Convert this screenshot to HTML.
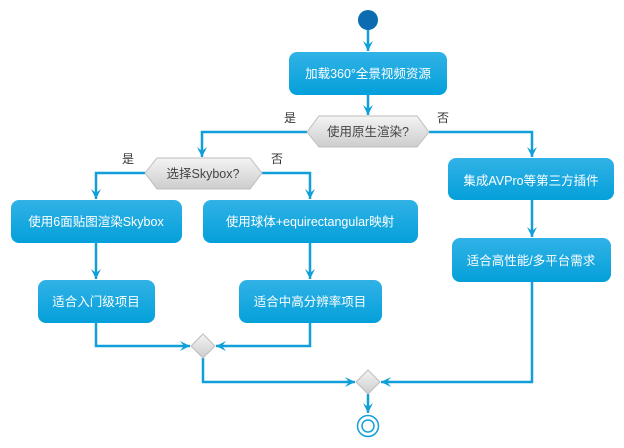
<!DOCTYPE html>
<html><head><meta charset="utf-8"><style>
html,body{margin:0;padding:0;background:#fff;width:624px;height:448px;overflow:hidden}
svg text{font-family:"Liberation Sans","Noto Sans CJK SC",sans-serif}
</style></head><body>
<svg width="624" height="448" viewBox="0 0 624 448" xmlns="http://www.w3.org/2000/svg">
<defs>
<linearGradient id="b" x1="0" y1="0" x2="0" y2="1"><stop offset="0" stop-color="#31b2e6"/><stop offset="1" stop-color="#04a0da"/></linearGradient>
<linearGradient id="g" x1="0" y1="0" x2="0" y2="1"><stop offset="0" stop-color="#f4f4f4"/><stop offset="1" stop-color="#cdcdcd"/></linearGradient>
<marker id="a" markerWidth="12" markerHeight="12" refX="10" refY="5" orient="auto" markerUnits="userSpaceOnUse"><path d="M0,0 L10,5 L0,10 L4,5 Z" fill="#109fd9"/></marker>
</defs>
<g fill="none" stroke="#109fd9" stroke-width="2.5">
<path d="M368,30 V51" marker-end="url(#a)"/>
<path d="M368,95 V115" marker-end="url(#a)"/>
<path d="M307,132 H202 V157" marker-end="url(#a)"/>
<path d="M429,132 H532 V157" marker-end="url(#a)"/>
<path d="M145,173 H96 V199" marker-end="url(#a)"/>
<path d="M262,173 H310 V199" marker-end="url(#a)"/>
<path d="M96,243 V279" marker-end="url(#a)"/>
<path d="M310,243 V279" marker-end="url(#a)"/>
<path d="M532,200 V237" marker-end="url(#a)"/>
<path d="M96,323 V346 H190" marker-end="url(#a)"/>
<path d="M310,323 V346 H216" marker-end="url(#a)"/>
<path d="M203,358 V382 H355" marker-end="url(#a)"/>
<path d="M532,282 V382 H381" marker-end="url(#a)"/>
<path d="M368,394 V413" marker-end="url(#a)"/>
</g>
<circle cx="368" cy="20" r="10" fill="#0b6cb2"/>
<g fill="url(#b)">
<rect x="289" y="52" width="158" height="43" rx="8"/>
<rect x="11" y="200" width="171" height="43" rx="8"/>
<rect x="203" y="200" width="215" height="43" rx="8"/>
<rect x="38" y="280" width="117" height="43" rx="8"/>
<rect x="239" y="280" width="143" height="43" rx="8"/>
<rect x="448" y="158" width="166" height="42" rx="8"/>
<rect x="452" y="238" width="159" height="44" rx="8"/>
</g>
<g fill="url(#g)" stroke="#bdbdbd" stroke-width="1">
<polygon points="307,132 319,116 417,116 429,132 417,147 319,147"/>
<polygon points="145,173 157,158 250,158 262,173 250,189 157,189"/>
<polygon points="203,334 215,346 203,358 191,346"/>
<polygon points="368,370 380,382 368,394 356,382"/>
</g>
<circle cx="368" cy="426" r="10.5" fill="none" stroke="#109fd9" stroke-width="1.5"/>
<circle cx="368" cy="426" r="6" fill="none" stroke="#109fd9" stroke-width="1.5"/>
<g fill="#fff" font-size="12.5" text-anchor="middle">
<text x="368" y="78">加载360°全景视频资源</text>
<text x="96" y="226">使用6面贴图渲染Skybox</text>
<text x="310" y="226">使用球体+equirectangular映射</text>
<text x="96" y="306">适合入门级项目</text>
<text x="310" y="306">适合中高分辨率项目</text>
<text x="531" y="185">集成AVPro等第三方插件</text>
<text x="531" y="265">适合高性能/多平台需求</text>
</g>
<g fill="#444" font-size="12.5" text-anchor="middle">
<text x="368" y="136">使用原生渲染?</text>
<text x="203" y="178">选择Skybox?</text>
</g>
<g fill="#333" font-size="12">
<text x="284" y="122">是</text>
<text x="437" y="122">否</text>
<text x="122" y="163">是</text>
<text x="271" y="163">否</text>
</g>
</svg>
</body></html>
